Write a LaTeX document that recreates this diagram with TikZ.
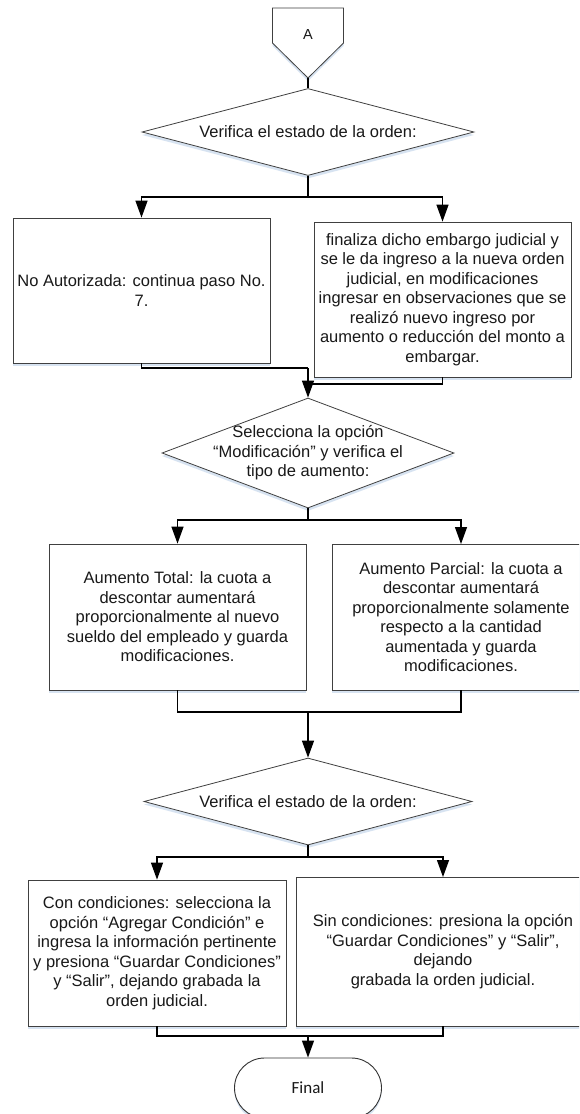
\documentclass[tikz,border=0pt]{standalone}
\usepackage{fontspec}
\setmainfont{Liberation Sans}
\newfontfamily\calfont{Carlito}
\usetikzlibrary{arrows.meta,shapes.geometric,shapes.misc,shadows}
\definecolor{myshadow}{RGB}{205,220,238}
\begin{document}
\begin{tikzpicture}[x=1pt,y=1pt,
  every node/.style={font=\fontsize{16.5}{19.5}\selectfont, text=black!90},
  shad/.style={drop shadow={shadow xshift=0pt, shadow yshift=-3pt, fill=myshadow, opacity=0.8}},
  box/.style={draw=black!75, line width=0.8pt, fill=white, rectangle, inner sep=0pt, align=center, shad},
  dia/.style={draw=black!75, line width=0.8pt, fill=white, diamond, inner sep=0pt, shad},
  term/.style={draw=black!80, line width=0.9pt, fill=white, rounded rectangle, inner sep=0pt, shad, font=\calfont\fontsize{17}{20}\selectfont},
  conn/.style={line width=1.3pt, draw=black},
  arr/.style={conn, -{Triangle[length=17pt,width=12pt]}},
]
\useasboundingbox (0,0) rectangle (579,-1114);
\clip (0,0) rectangle (579,-1114);
\fill[white] (0,0) rectangle (579,-1114);

% off-page connector A
\draw[draw=black!75, line width=0.8pt, fill=white, shad] (272.5,-8) -- (343.5,-8) -- (343.5,-43) -- (308,-78) coordinate (aTip) -- (272.5,-43) -- cycle;
\node[font=\fontsize{14.5}{17}\selectfont] (conA) at (308,-35) {A};

% decisions and boxes
\node[dia, minimum width=332, minimum height=87,
  label={[align=center]center:Verifica el estado de la orden:}] (d1) at (308,-132) {};

\node[box, minimum width=257, minimum height=145] (b1) at (141.5,-290.5)
  {No Autorizada: continua paso No.\\7.};
\node[box, minimum width=257, minimum height=155] (b2) at (442.5,-299.5)
  {finaliza dicho embargo judicial y\\se le da ingreso a la nueva orden\\judicial, en modificaciones\\ingresar en observaciones que se\\realizó nuevo ingreso por\\aumento o reducción del monto a\\embargar.};

\node[dia, minimum width=292, minimum height=110,
  label={[align=center]center:Selecciona la opción\\“Modificación” y verifica el\\tipo de aumento:}] (d2) at (308,-453) {};

\node[box, minimum width=257, minimum height=146] (b3) at (177.5,-617)
  {Aumento Total: la cuota a\\descontar aumentará\\proporcionalmente al nuevo\\sueldo del empleado y guarda\\modificaciones.};
\node[box, minimum width=298, minimum height=146,
  label={[align=center, xshift=-20pt]center:Aumento Parcial: la cuota a\\descontar aumentará\\proporcionalmente solamente\\respecto a la cantidad\\aumentada y guarda\\modificaciones.}] (b4) at (481,-617) {};
\coordinate (b4top) at (461,-544);
\coordinate (b4bot) at (461,-690);

\node[dia, minimum width=328, minimum height=87,
  label={[align=center]center:Verifica el estado de la orden:}] (d3) at (308,-801.5) {};

\node[box, minimum width=258, minimum height=146] (b5) at (157,-953)
  {Con condiciones: selecciona la\\opción “Agregar Condición” e\\ingresa la información pertinente\\y presiona “Guardar Condiciones”\\y “Salir”, dejando grabada la\\orden judicial.};
\node[box, minimum width=334, minimum height=149,
  label={[align=center, xshift=-20pt]center:Sin condiciones: presiona la opción\\“Guardar Condiciones” y “Salir”,\\dejando\\grabada la orden judicial.}] (b6) at (463,-951.5) {};
\coordinate (b6top) at (443,-877);
\coordinate (b6bot) at (443,-1026);

\node[term, minimum width=147, minimum height=60] (fin) at (308,-1088) {Final};

% junction coordinates
\coordinate (j1) at (308,-197);
\coordinate (j2) at (308,-368);
\coordinate (j2r) at (308,-384);
\coordinate (j3) at (308,-520);
\coordinate (j4) at (308,-712);
\coordinate (j5) at (308,-857);
\coordinate (j6) at (308,-1036);

% connectors
\draw[conn] (aTip) -- (d1.north);
\draw[conn] (d1.south) -- (j1);
\draw[arr] (j1) -| (b1.north);
\draw[arr] (j1) -| (b2.north);
\draw[conn] (b1.south) |- (j2);
\draw[conn] (b2.south) |- (j2r);
\draw[arr] (j2) -- (d2.north);

\draw[conn] (d2.south) -- (j3);
\draw[arr] (j3) -| (b3.north);
\draw[arr] (j3) -| (b4top);
\draw[conn] (b3.south) |- (j4);
\draw[conn] (b4bot) |- (j4);
\draw[arr] (j4) -- (d3.north);

\draw[conn] (d3.south) -- (j5);
\draw[arr] (j5) -| (b5.north);
\draw[arr] (j5) -| (b6top);
\draw[conn] (b5.south) |- (j6);
\draw[conn] (b6bot) |- (j6);
\draw[arr] (j6) -- (fin.north);
\end{tikzpicture}
\end{document}
